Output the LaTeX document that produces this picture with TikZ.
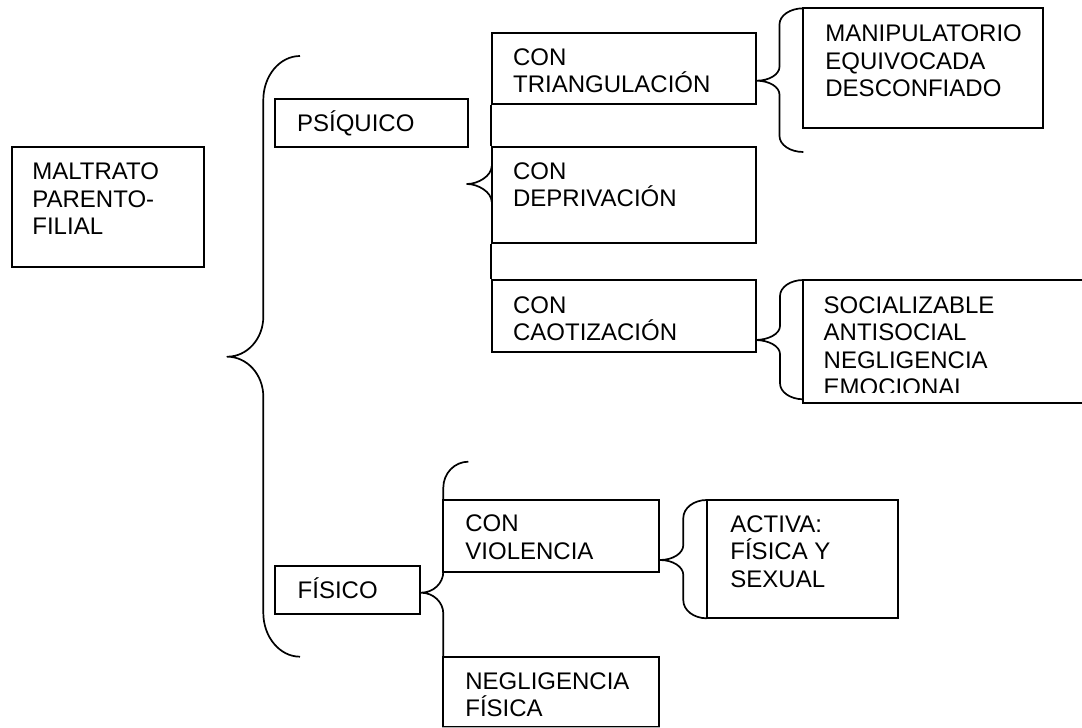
\documentclass[tikz,border=0pt]{standalone}
\usepackage{fontspec}
\setmainfont{Liberation Sans}
\usetikzlibrary{fit}
% #1 xv, #2 ytop, #3 ybot, #4 ytip, #5 xend, #6 xtip, #7 rend, #8 rtip
\newcommand{\drawbrace}[8]{%
\draw[brc] (#5,#2) .. controls ({#1+0.448*(#5-#1)},#2) and (#1,{#2+0.448*#7}) .. (#1,{#2+#7})
 -- (#1,{#4-#8}) .. controls (#1,{#4-0.448*#8}) and ({#1-0.448*(#1-#6)},#4) .. (#6,#4)
 .. controls ({#1-0.448*(#1-#6)},#4) and (#1,{#4+0.448*#8}) .. (#1,{#4+#8})
 -- (#1,{#3-#7}) .. controls (#1,{#3-0.448*#7}) and ({#1+0.448*(#5-#1)},#3) .. (#5,#3);}
\begin{document}
\begin{tikzpicture}[x=0.5pt,y=-0.5pt,
 box/.style={draw, line width=1pt, fill=white, inner sep=0pt},
 txt/.style={font=\fontsize{12}{13.75}\selectfont, align=left, inner sep=0pt, anchor=base west},
 brc/.style={line width=0.85pt, line join=round}]
\useasboundingbox (0,0) rectangle (1082,728);
\clip (0,0) rectangle (1082,728);
% braces
\drawbrace{263.3}{56}{656.7}{356.7}{300}{227.3}{44}{40}
\drawbrace{779.5}{8.3}{152}{80.7}{803.3}{756.7}{16}{14}
\drawbrace{780}{280}{399.3}{340}{803.3}{755}{16}{14}
\drawbrace{443.3}{461.7}{724}{592.7}{468.3}{421}{26}{21}
\drawbrace{683.3}{500}{618.3}{560}{706.7}{660}{18}{15}
% boxes
\node[box, fit={(11.7,146.7) (204,267)}] (mal) {};
\node[box, fit={(275,99) (468,147)}] (psi) {};
\node[box, fit={(491.7,33.3) (756,104.3)}] (tri) {};
\node[box, fit={(491.7,146.7) (756,242.7)}] (dep) {};
\node[box, fit={(491.7,280) (756,351.7)}] (cao) {};
\node[box, fit={(803.3,8.3) (1043.3,128.3)}] (man) {};
\node[box, fit={(803.3,280) (1095,403.3)}] (soc) {};
\node[box, fit={(275,566) (420,614)}] (fis) {};
\node[box, fit={(443.3,500) (659.3,571.7)}] (vio) {};
\node[box, fit={(443.3,656.7) (659.3,726.7)}] (neg) {};
\draw[line width=1pt, gray!60] (neg.south west) -- (neg.south east);
\node[box, fit={(706.7,500) (898.3,618.3)}] (act) {};
% psiquico connector
\draw[brc] (tri.south west) -- (dep.north west);
\draw[brc] (dep.south west) -- (cao.north west);
\coordinate (psitip) at (467,184);
\draw[brc] (491.7,166) .. controls (491.7,176) and (478,184) .. (psitip)
 .. controls (478,184) and (491.7,192) .. (491.7,202);
% texts (anchor = baseline of the last line)
\node[txt] (malt) at (32,234.7) {MALTRATO\\PARENTO-\\FILIAL};
\node[txt] (psit) at (296.7,131.7) {PSÍQUICO};
\node[txt] (trit) at (512.7,92.7) {CON\\TRIANGULACIÓN};
\node[txt] (dept) at (512.7,206.7) {CON\\DEPRIVACIÓN};
\node[txt] (caot) at (512.7,340.7) {CON\\CAOTIZACIÓN};
\node[txt] (mant) at (825,96.7) {MANIPULATORIO\\EQUIVOCADA\\DESCONFIADO};
\begin{scope}
\clip (805,282) rectangle (1082,392.7);
\node[txt] (soct) at (823.3,395.8) {SOCIALIZABLE\\ANTISOCIAL\\NEGLIGENCIA\\EMOCIONAL};
\end{scope}
\node[txt] (fist) at (297.3,598.3) {FÍSICO};
\node[txt] (viot) at (465,559.3) {CON\\VIOLENCIA};
\node[txt] (negt) at (465,716.7) {NEGLIGENCIA\\FÍSICA};
\node[txt] (actt) at (730,587.3) {ACTIVA:\\FÍSICA Y\\SEXUAL};
\end{tikzpicture}
\end{document}
